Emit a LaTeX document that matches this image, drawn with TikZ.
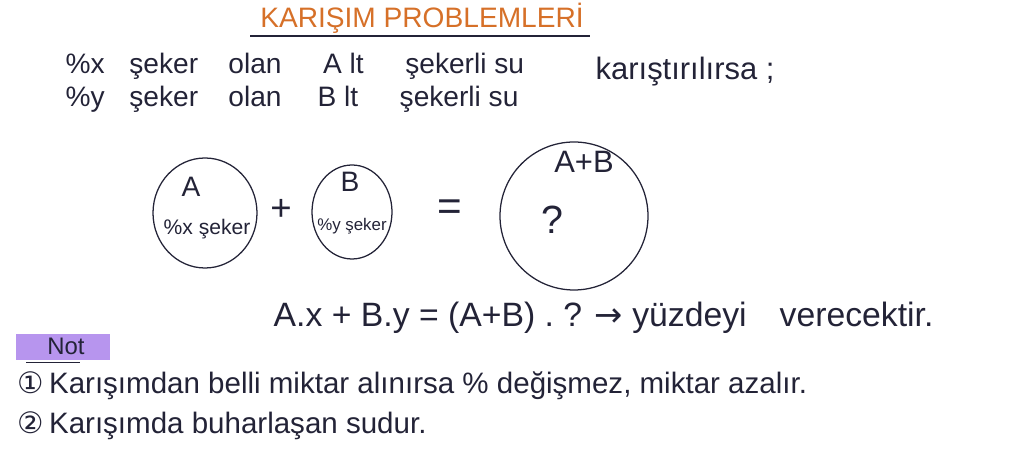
\documentclass[tikz,border=0pt]{standalone}
\usepackage{fontspec}
\setmainfont{Liberation Sans}
\newfontfamily\symfont{DejaVu Sans}
\usepackage{tikz}
\usetikzlibrary{shapes.geometric,positioning,calc}
\definecolor{ink}{RGB}{35,35,55}
\definecolor{titleorange}{RGB}{214,112,40}
\definecolor{marker}{RGB}{170,130,235}

\begin{document}
\begin{tikzpicture}[hand/.style={text=ink, font=\fontsize{20}{24}\selectfont, inner sep=1pt},
mix/.style={ellipse, draw=ink, line width=0.9pt, minimum width=#1},
small/.style={text=ink, font=\fontsize{#1}{16}\selectfont}]

\useasboundingbox (0,0) rectangle (25.6,11.5);

% TITLE

\node [text=titleorange, font=\fontsize{20}{24}\selectfont] (title) at (10.55,11.05) {KARIŞIM PROBLEMLERİ};
\draw [ink, line width=0.8pt] (6.25,10.6) -- (14.75,10.6);

% GIVEN

\node [hand, anchor=west] (rowx) at (1.6,9.85) {\%x\hspace{0.6em} şeker\hspace{0.8em} olan\hspace{1.2em} A lt\hspace{1.2em} şekerli su};
\node [hand, below=0.83cm of rowx.west, anchor=west] (rowy) {\%y\hspace{0.6em} şeker\hspace{0.8em} olan\hspace{1.0em} B lt\hspace{1.2em} şekerli su};
\node [hand, font=\fontsize{22}{26}\selectfont, anchor=west] (mixing) at (14.85,9.7) {karıştırılırsa ;};

% MIXTURES

\node [mix=2.6cm, minimum height=2.75cm] (mixA) at (5.125,6.175) {};
\node [hand] at ($(mixA.center)+(-0.35,0.65)$) (labelA) {A};
\node [small=15] at ($(mixA.center)+(0.05,-0.4)$) (rateA) {\%x şeker};

\node [hand, font=\fontsize{26}{30}\selectfont] (plus) at (7.025,6.25) {+};

\node [mix=2.0cm, minimum height=2.35cm] (mixB) at (8.8,6.2) {};
\node [hand] at ($(mixB.center)+(-0.05,0.75)$) (labelB) {B};
\node [small=12] at ($(mixB.center)+(0,-0.35)$) (rateB) {\%y şeker};

\node [hand, font=\fontsize{30}{34}\selectfont] (equals) at (11.25,6.25) {=};

\node [mix=3.7cm, minimum height=3.7cm] (mixAB) at (14.35,6.1) {};
\node [hand, font=\fontsize{22}{26}\selectfont] at ($(mixAB.center)+(0.25,1.35)$) (labelAB) {A+B};
\node [hand, font=\fontsize{28}{32}\selectfont] at ($(mixAB.center)+(-0.55,-0.1)$) (unknown) {?};

% FORMULA

\node [hand, font=\fontsize{24}{28}\selectfont, anchor=west] (formula) at (6.8,3.55) {A.x + B.y = (A+B) . ? {\symfont →} yüzdeyi\hspace{0.7em} verecektir.};

% NOTES

\fill [marker, opacity=0.85] (0.4,2.5) rectangle (2.75,3.15);
\node [hand, font=\fontsize{17}{20}\selectfont] (note) at (1.65,2.85) {Not};
\draw [ink, line width=0.8pt] (0.65,2.43) -- (2.0,2.43);

\node [hand, font=\fontsize{21}{25}\selectfont, anchor=west] (note1) at (0.4,1.85) {{\symfont ①}\,Karışımdan belli miktar alınırsa \% değişmez, miktar azalır.};
\node [hand, font=\fontsize{21}{25}\selectfont, below=1.0cm of note1.west, anchor=west] (note2) {{\symfont ②}\,Karışımda buharlaşan sudur.};

\end{tikzpicture}
\end{document}
